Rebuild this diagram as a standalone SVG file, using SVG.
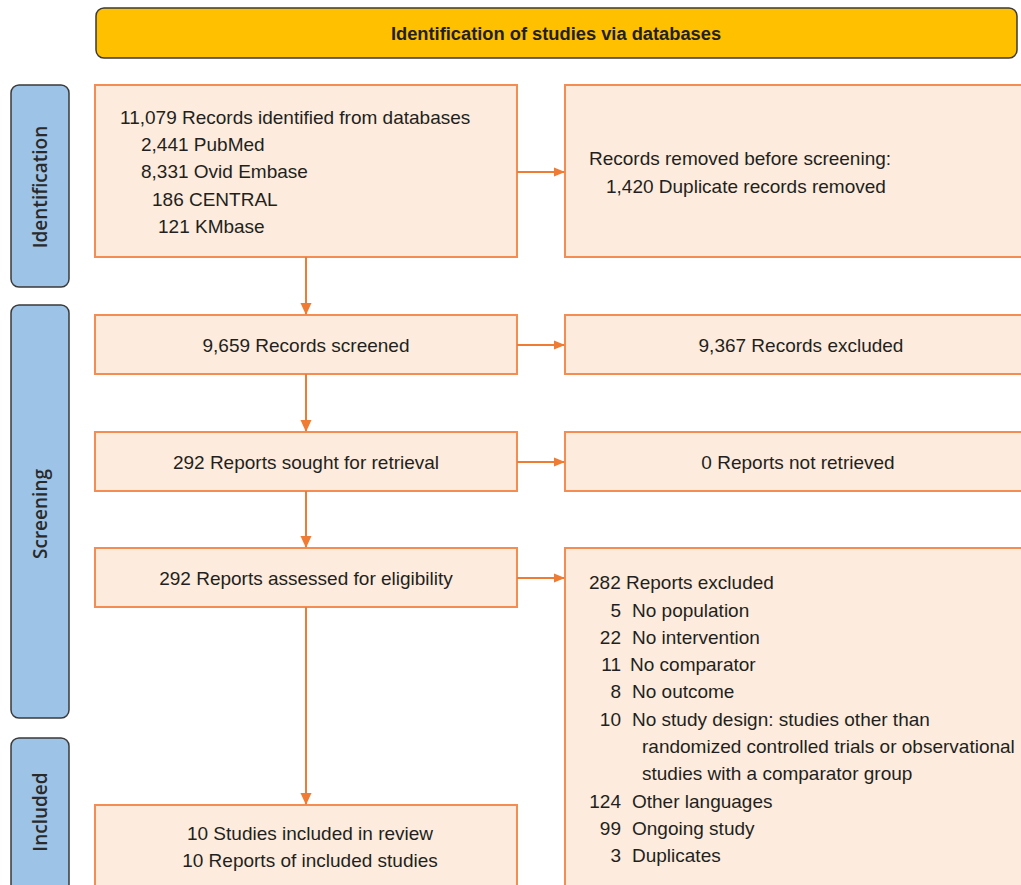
<svg xmlns="http://www.w3.org/2000/svg" width="1021" height="885" viewBox="0 0 1021 885">
<defs>
<marker id="ah" markerWidth="11" markerHeight="10" refX="10" refY="5" orient="auto" markerUnits="userSpaceOnUse">
<path d="M0,0.5 L11,5 L0,9.5 Z" fill="#F07B32"/>
</marker>
<marker id="av" markerWidth="12" markerHeight="12" refX="11" refY="6" orient="auto" markerUnits="userSpaceOnUse">
<path d="M0,0.5 L12,6 L0,11.5 Z" fill="#F07B32"/>
</marker>
<style>
.box{fill:#FDEBDD;stroke:#F58C52;stroke-width:2}
.side{fill:#9DC3E6;stroke:#3A3A3A;stroke-width:1.5}
.t{font-family:"Liberation Sans",Arial,sans-serif;font-size:19px;fill:#231F20}
.c{text-anchor:middle}
.e{text-anchor:end}
.st{font-family:"Open Sans","Liberation Sans",sans-serif;font-size:19px;font-weight:600;fill:#2A2A2A;text-anchor:middle}
.hd{font-family:"Liberation Sans",Arial,sans-serif;font-size:18.3px;font-weight:bold;fill:#231F20;text-anchor:middle}
.ln{stroke:#F07B32;stroke-width:2;fill:none}
</style>
</defs>
<rect width="1021" height="885" fill="#FFFFFF"/>

<g id="header">
<rect x="96" y="8" width="921" height="50" rx="8" fill="#FFC000" stroke="#3A3A3A" stroke-width="1.5"/>
<text class="hd" x="556" y="40">Identification of studies via databases</text>
</g>

<g id="side-identification">
<rect class="side" x="11" y="85" width="58" height="202" rx="8"/>
<text class="st" transform="translate(47,187) rotate(-90)">Identification</text>
</g>
<g id="side-screening">
<rect class="side" x="11" y="305" width="58" height="413" rx="8"/>
<text class="st" transform="translate(47,514) rotate(-90)">Screening</text>
</g>
<g id="side-included">
<rect class="side" x="11" y="738" width="58" height="160" rx="8"/>
<text class="st" transform="translate(47,812) rotate(-90)">Included</text>
</g>

<g id="records-identified">
<rect class="box" x="95" y="85" width="422" height="172"/>
<text class="t" x="120" y="124">11,079 Records identified from databases</text>
<text class="t" x="141" y="151">2,441 PubMed</text>
<text class="t" x="141" y="178">8,331 Ovid Embase</text>
<text class="t" x="152" y="206">186 CENTRAL</text>
<text class="t" x="158" y="233">121 KMbase</text>
</g>
<g id="records-removed">
<rect class="box" x="565" y="85" width="470" height="172"/>
<text class="t" x="589" y="165">Records removed before screening:</text>
<text class="t" x="606" y="193">1,420 Duplicate records removed</text>
</g>

<g id="records-screened">
<rect class="box" x="95" y="315" width="422" height="59"/>
<text class="t c" x="306" y="352">9,659 Records screened</text>
</g>
<g id="records-excluded">
<rect class="box" x="565" y="315" width="470" height="59"/>
<text class="t c" x="801" y="352">9,367 Records excluded</text>
</g>

<g id="reports-sought">
<rect class="box" x="95" y="432" width="422" height="59"/>
<text class="t c" x="306" y="469">292 Reports sought for retrieval</text>
</g>
<g id="reports-not-retrieved">
<rect class="box" x="565" y="432" width="470" height="59"/>
<text class="t c" x="798" y="469">0 Reports not retrieved</text>
</g>

<g id="reports-assessed">
<rect class="box" x="95" y="548" width="422" height="59"/>
<text class="t c" x="306" y="585">292 Reports assessed for eligibility</text>
</g>
<g id="reports-excluded">
<rect class="box" x="565" y="548" width="470" height="350"/>
<text class="t" x="589" y="589">282 Reports excluded</text>
<text class="t e" x="621" y="617">5</text><text class="t" x="632" y="617">No population</text>
<text class="t e" x="621" y="644">22</text><text class="t" x="632" y="644">No intervention</text>
<text class="t e" x="621" y="671">11</text><text class="t" x="630" y="671">No comparator</text>
<text class="t e" x="621" y="698">8</text><text class="t" x="632" y="698">No outcome</text>
<text class="t e" x="621" y="726">10</text><text class="t" x="632" y="726">No study design: studies other than</text>
<text class="t" x="642" y="753">randomized controlled trials or observational</text>
<text class="t" x="642" y="780">studies with a comparator group</text>
<text class="t e" x="621" y="808">124</text><text class="t" x="632" y="808">Other languages</text>
<text class="t e" x="621" y="835">99</text><text class="t" x="632" y="835">Ongoing study</text>
<text class="t e" x="621" y="862">3</text><text class="t" x="632" y="862">Duplicates</text>
</g>

<g id="studies-included">
<rect class="box" x="95" y="805" width="422" height="95"/>
<text class="t c" x="310" y="840">10 Studies included in review</text>
<text class="t c" x="310" y="867">10 Reports of included studies</text>
</g>

<g id="connectors">
<line class="ln" x1="517" y1="172" x2="564" y2="172" marker-end="url(#ah)"/>
<line class="ln" x1="517" y1="345" x2="564" y2="345" marker-end="url(#ah)"/>
<line class="ln" x1="517" y1="462" x2="564" y2="462" marker-end="url(#ah)"/>
<line class="ln" x1="517" y1="578" x2="564" y2="578" marker-end="url(#ah)"/>
<line class="ln" x1="306" y1="257" x2="306" y2="314" marker-end="url(#av)"/>
<line class="ln" x1="306" y1="374" x2="306" y2="431" marker-end="url(#av)"/>
<line class="ln" x1="306" y1="491" x2="306" y2="547" marker-end="url(#av)"/>
<line class="ln" x1="306" y1="607" x2="306" y2="804" marker-end="url(#av)"/>
</g>
</svg>
